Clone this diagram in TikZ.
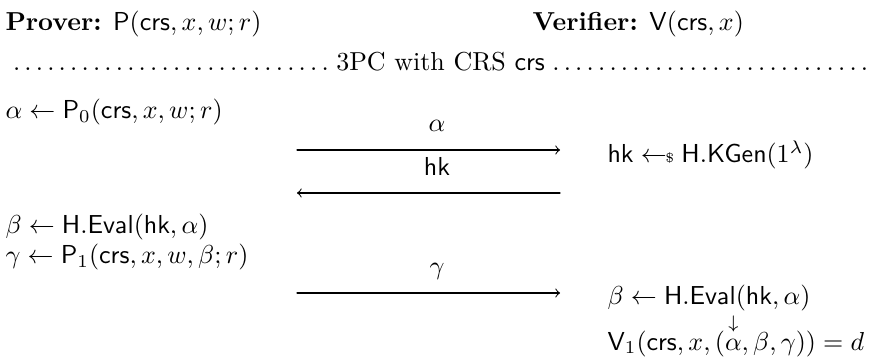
\documentclass[tikz,border=0pt]{standalone}
\usepackage{amsmath}
\newcommand{\smp}{\mathrel{\leftarrow\!\!{\scriptscriptstyle\$}}}

\begin{document}
\begin{tikzpicture}[x=0.385pt,y=-0.385pt,line cap=round,line join=round,
    txt/.style={anchor=base west,inner sep=0pt},
    msg/.style={anchor=base,inner sep=0pt},
    >=to]
        \useasboundingbox (0,0) rectangle (873,358);

        % Encabezados
        \node[txt] (prover) at (5,31) {\textbf{Prover:} $\mathsf{P}(\mathsf{crs},x,w;r)$};
        \node[txt] (verifier) at (532,31) {\textbf{Verifier:} $\mathsf{V}(\mathsf{crs},x)$};
        \node[txt] (crs) at (5,71) {\makebox[335pt]{\dotfill3PC with CRS $\mathsf{crs}$\dotfill}};

        % Lado del probador
        \node[txt] (p0) at (5,119) {$\alpha\leftarrow\mathsf{P}_0(\mathsf{crs},x,w;r)$};
        \node[txt] (peval) at (5,234) {$\beta\leftarrow\mathsf{H.Eval}(\mathsf{hk},\alpha)$};
        \node[txt] (p1) at (5,264) {$\gamma\leftarrow\mathsf{P}_1(\mathsf{crs},x,w,\beta;r)$};

        % Lado del verificador
        \node[txt] (kgen) at (607,163) {$\mathsf{hk}\smp\mathsf{H.KGen}(1^\lambda)$};
        \node[txt] (veval) at (607,304) {$\beta\leftarrow\mathsf{H.Eval}(\mathsf{hk},\alpha)$};
        \node[txt] (v1) at (607,350) {$\mathsf{V}_1(\mathsf{crs},x,(\overset{\downarrow}{\rule{0pt}{1.35ex}\alpha},\beta,\gamma))=d$};

        % Mensajes
        \coordinate (a1) at (297,150);
        \coordinate (b1) at (560,150);
        \coordinate (a2) at (297,193);
        \coordinate (b2) at (560,193);
        \coordinate (a3) at (297,293);
        \coordinate (b3) at (560,293);
        \draw[->] (a1) -- (b1);
        \draw[->] (b2) -- (a2);
        \draw[->] (a3) -- (b3);
        \node[msg] (malpha) at (437,132) {$\alpha$};
        \node[msg] (mhk) at (437,176) {$\mathsf{hk}$};
        \node[msg] (mgamma) at (437,275) {$\gamma$};
\end{tikzpicture}
\end{document}
